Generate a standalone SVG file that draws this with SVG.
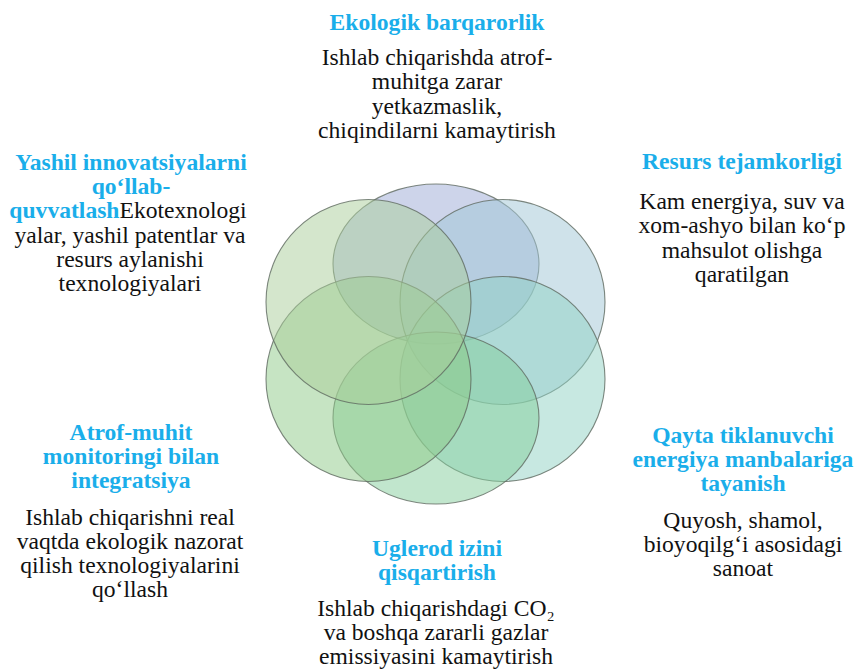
<svg xmlns="http://www.w3.org/2000/svg" width="855" height="670" viewBox="0 0 855 670">
<style>
.c{stroke:#5f6a60;stroke-opacity:0.8;stroke-width:1.1;fill-opacity:0.5}
text{font-family:'Liberation Serif','Times New Roman',Tinos,'DejaVu Serif',serif;font-size:23.6px}
.t{font-weight:bold;fill:#1aaeea;text-anchor:middle}
.b{fill:#111;text-anchor:middle}
.bb{font-weight:normal;fill:#111}
</style>
<rect width="855" height="670" fill="#fff"/>
<g id="circles">
<ellipse id="c-top" class="c" cx="436" cy="264" rx="103" ry="80" fill="#9ba9d5"/>
<circle id="c-ur" class="c" cx="502.5" cy="302" r="102.5" fill="#9fc5d5"/>
<circle id="c-lr" class="c" cx="502.5" cy="379" r="102.5" fill="#8fd1c3"/>
<ellipse id="c-bottom" class="c" cx="436" cy="418" rx="103" ry="86" fill="#83cd9b"/>
<circle id="c-ll" class="c" cx="368.5" cy="379" r="102.5" fill="#8dc987"/>
<circle id="c-ul" class="c" cx="368.5" cy="302" r="102.5" fill="#a9cd99"/>
</g>
<g id="connectors"/>
<g id="n-top">
<text class="t" x="437" y="30">Ekologik barqarorlik</text>
<text class="b" x="437" y="65">Ishlab chiqarishda atrof-</text>
<text class="b" x="437" y="89">muhitga zarar</text>
<text class="b" x="437" y="114">yetkazmaslik,</text>
<text class="b" x="437" y="138">chiqindilarni kamaytirish</text>
</g>
<g id="n-ur">
<text class="t" x="742" y="169">Resurs tejamkorligi</text>
<text class="b" x="742" y="209">Kam energiya, suv va</text>
<text class="b" x="742" y="233">xom-ashyo bilan ko‘p</text>
<text class="b" x="742" y="258">mahsulot olishga</text>
<text class="b" x="742" y="282">qaratilgan</text>
</g>
<g id="n-lr">
<text class="t" x="743" y="443">Qayta tiklanuvchi</text>
<text class="t" x="743" y="467">energiya manbalariga</text>
<text class="t" x="743" y="491">tayanish</text>
<text class="b" x="743" y="528">Quyosh, shamol,</text>
<text class="b" x="743" y="552">bioyoqilg‘i asosidagi</text>
<text class="b" x="743" y="576">sanoat</text>
</g>
<g id="n-bottom">
<text class="t" x="437" y="556">Uglerod izini</text>
<text class="t" x="437" y="580">qisqartirish</text>
<text class="b" x="436" y="616">Ishlab chiqarishdagi CO₂</text>
<text class="b" x="436" y="640">va boshqa zararli gazlar</text>
<text class="b" x="436" y="664">emissiyasini kamaytirish</text>
</g>
<g id="n-ll">
<text class="t" x="131" y="440">Atrof-muhit</text>
<text class="t" x="131" y="464">monitoringi bilan</text>
<text class="t" x="131" y="488">integratsiya</text>
<text class="b" x="130" y="525">Ishlab chiqarishni real</text>
<text class="b" x="130" y="549">vaqtda ekologik nazorat</text>
<text class="b" x="130" y="573">qilish texnologiyalarini</text>
<text class="b" x="130" y="597">qo‘llash</text>
</g>
<g id="n-ul">
<text class="t" x="131" y="170">Yashil innovatsiyalarni</text>
<text class="t" x="131" y="194">qo‘llab-</text>
<text class="t" x="128" y="218">quvvatlash<tspan class="bb">Ekotexnologi</tspan></text>
<text class="b" x="130" y="243">yalar, yashil patentlar va</text>
<text class="b" x="130" y="267">resurs aylanishi</text>
<text class="b" x="130" y="291">texnologiyalari</text>
</g>
</svg>
